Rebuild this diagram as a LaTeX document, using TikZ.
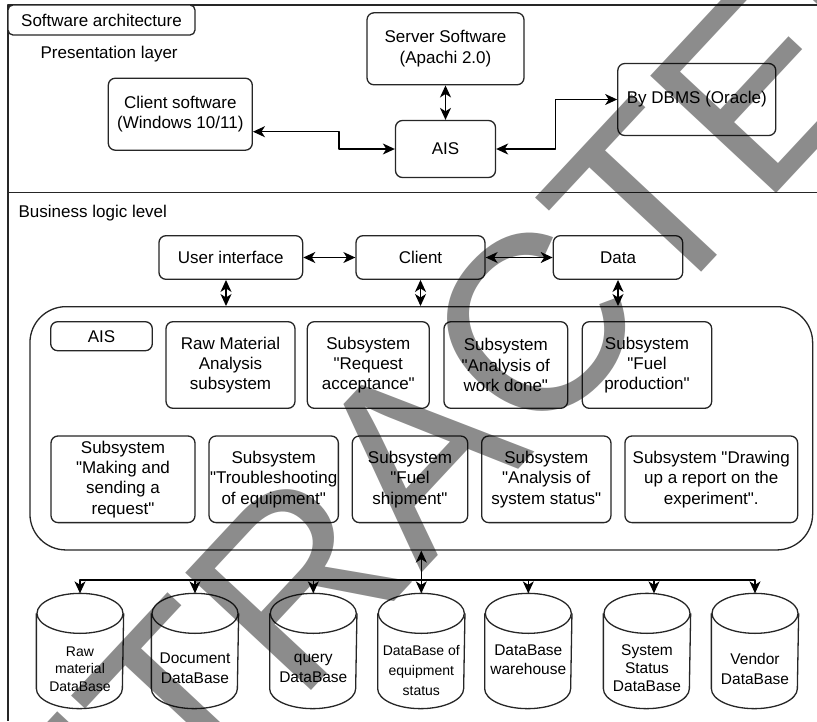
\documentclass[tikz,border=0pt]{standalone}
\usepackage{fontspec}
\setmainfont{Liberation Sans}
\usetikzlibrary{arrows.meta}
\newcommand\dq{\textquotedbl}

\begin{document}
\begin{tikzpicture}[x=1pt,y=-1pt,>={Stealth[length=12pt,width=11pt,inset=3.5pt]},line join=round,line width=1.3pt,
	font=\fontsize{17}{20.4}\selectfont,
	box/.style={draw=black!85,fill=white,rounded corners=7pt,align=center,inner sep=0pt},
	sub/.style={box,minimum height=86.6pt},
	dbbox/.style={minimum width=86pt,minimum height=114pt,inner sep=0pt},
	dbtext/.style={align=center,inner sep=0pt,font=\fontsize{15.5}{19.5}\selectfont},
	link/.style={<->,draw=black},
	stamp/.style={rotate=47,inner sep=0pt,text=black,opacity=0.45,font=\fontsize{250}{250}\selectfont}]
	\useasboundingbox (0,0) rectangle (817,721);
	\clip (0,0) rectangle (817,721);
	% frame
	\draw[black!85] (817,5)--(8,5)--(8,721);
	\draw[black!85] (8,192.7)--(817,192.7);
	% presentation layer
	\node[box,rounded corners=5pt,minimum width=187pt,minimum height=30pt] (title) at (101.5,20) {Software architecture};
	\node[anchor=west,inner sep=0pt] (pres) at (40,54) {Presentation layer};
	\node[box,minimum width=144pt,minimum height=72pt] (client) at (180.3,114.2) {Client software\\(Windows 10/11)};
	\node[box,minimum width=157pt,minimum height=72pt] (server) at (445.5,48.8) {Server Software\\(Apachi 2.0)};
	\node[box,minimum width=100pt,minimum height=57pt] (ais) at (445.5,149) {AIS};
	\node[box,minimum width=158pt,minimum height=72pt] (dbms) at (696.8,99.5) {By DBMS (Oracle)};
	\draw[link] (server)--(ais);
	\draw[link] ([yshift=-17.5pt]client.east)--++(86,0)|-(ais.west);
	\draw[link] (ais.east)--++(59,0)|-(dbms.west);
	% business logic level
	\node[anchor=west,inner sep=0pt] (biz) at (18,212.7) {Business logic level};
	\node[box,minimum width=143.7pt,minimum height=43.6pt] (ui) at (230.8,257.5) {User interface};
	\node[box,minimum width=129pt,minimum height=43.6pt] (cli) at (420.5,257.5) {Client};
	\node[box,minimum width=129.4pt,minimum height=43.6pt] (data) at (618,257.5) {Data};
	\draw[link] (ui)--(cli);
	\draw[link] (cli)--(data);
	\node[box,rounded corners=36pt,minimum width=782.7pt,minimum height=243.3pt] (core) at (421.3,428.3) {};
	\draw[link] ([xshift=-4.8pt]ui.south)--([xshift=-4.8pt]ui.south|-core.north);
	\draw[link] (cli)--(cli|-core.north);
	\draw[link] (data)--(data|-core.north);
	\node[box,minimum width=101.6pt,minimum height=29pt] (aislbl) at (101.5,336.2) {AIS};
	\node[sub,minimum width=129pt] (raw) at (230.5,365) {Raw Material\\Analysis\\subsystem};
	\node[sub,minimum width=122pt] (req) at (368.3,365) {Subsystem\\\dq Request\\acceptance\dq};
	\node[sub,minimum width=123.7pt] (work) at (505.8,365) {Subsystem\\\dq Analysis of\\work done\dq};
	\node[sub,minimum width=129.4pt] (fuelp) at (647,365) {Subsystem\\\dq Fuel\\production\dq};
	\node[sub,minimum width=144pt] (making) at (123,479.3) {Subsystem\\\dq Making and\\sending a\\request\dq};
	\node[sub,minimum width=129.3pt] (trouble) at (273.7,479.3) {Subsystem\\\dq Troubleshooting\\of equipment\dq};
	\node[sub,minimum width=115.4pt] (ship) at (410,479.3) {Subsystem\\\dq Fuel\\shipment\dq};
	\node[sub,minimum width=129.3pt] (status) at (546.3,479.3) {Subsystem\\\dq Analysis of\\system status\dq};
	\node[sub,minimum width=172.7pt] (report) at (711.3,479.3) {Subsystem \dq Drawing\\up a report on the\\experiment\dq.};
	% databases
	\coordinate (bus) at (421.3,580);
	\foreach \i/\x in {1/80,2/195,3/313.3,4/421.3,5/528.3,6/647,7/755}
		\node[dbbox] (db\i) at (\x,651) {};
	\foreach \i in {1,...,7}{
		\draw[black!85] ([yshift=-20pt]db\i.north) ellipse [x radius=43pt,y radius=20pt];
		\draw[black!85] ([yshift=-20pt]db\i.north west)--([yshift=20pt]db\i.south west) arc [start angle=180,end angle=360,x radius=43pt,y radius=20pt]--([yshift=-20pt]db\i.north east);
	}
	\node[dbtext,font=\fontsize{14}{17.5}\selectfont] (t1) at (80,669) {Raw\\material\\DataBase};
	\node[dbtext] (t2) at (195,668.3) {Document\\DataBase};
	\node[dbtext] (t3) at (313.3,668.3) {query\\DataBase};
	\node[dbtext,font=\fontsize{14}{20}\selectfont] (t4) at (421.3,670) {DataBase of\\equipment\\status};
	\node[dbtext] (t5) at (528.3,659.5) {DataBase\\warehouse};
	\node[dbtext,font=\fontsize{15.5}{18}\selectfont] (t6) at (647,668) {System\\Status\\DataBase};
	\node[dbtext] (t7) at (755,669) {Vendor\\DataBase};
	\draw[->] (bus)--(core.south);
	\foreach \i in {1,2,3,4,5,7}
		\draw[->] (bus)-|(db\i.north);
	\draw[->] (bus)-|([xshift=7pt]db6.north);
	% stamp
	\node[stamp] (wm) at (415,454) {RETRACTED};
\end{tikzpicture}
\end{document}
